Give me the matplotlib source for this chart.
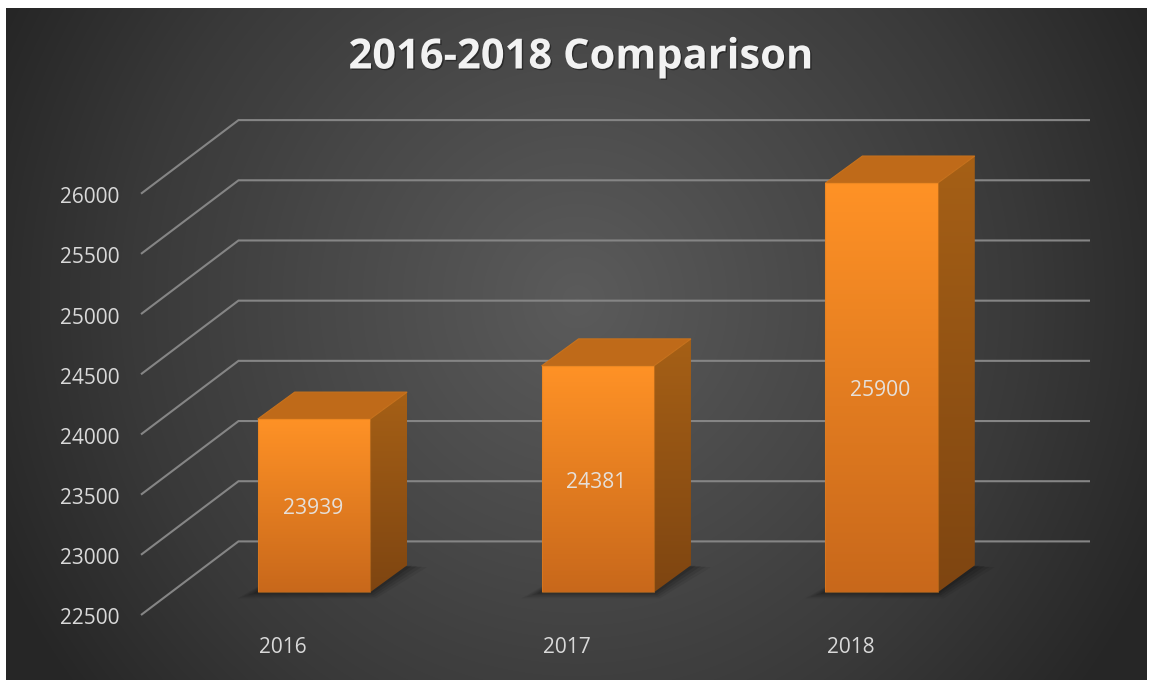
import numpy as np
import matplotlib
matplotlib.use("Agg")
import matplotlib.pyplot as plt
from matplotlib.patches import Polygon
from matplotlib.colors import LinearSegmentedColormap
from matplotlib.transforms import Affine2D
import matplotlib.patheffects as pe

years = ["2016", "2017", "2018"]
totals = [23939, 24381, 25900]
y_ticks = [22500, 23000, 23500, 24000, 24500, 25000, 25500, 26000]
title = "2016-2018 Comparison"

W, H = 1153, 685
FONT = "Open Sans"
plt.rcParams["font.family"] = [FONT, "DejaVu Sans"]

fig = plt.figure(figsize=(W / 100, H / 100), dpi=100, facecolor="white")

# panel background (radial gradient)
PL, PR, PT, PB = 6, 1147, 8, 680
bg = fig.add_axes([PL / W, 1 - PB / H, (PR - PL) / W, (PB - PT) / H], zorder=0)
bg.axis("off")
yy, xx = np.mgrid[PT:PB, PL:PR]
r = np.sqrt(((xx - 577) / 640) ** 2 + ((yy - 300) / 650) ** 2)
bg_cmap = LinearSegmentedColormap.from_list(
    "bg", [(0, "#5b5b5b"), (0.4, "#484848"), (0.7, "#393939"), (1, "#262626")])
bg.imshow(np.clip(r, 0, 1), cmap=bg_cmap, vmin=0, vmax=1, aspect="auto", interpolation="bilinear")

# main axes: the front plane of the 3-D box
AL, AR, AT, AB = 141.0, 992.5, 193.7, 615.0
ax = fig.add_axes([AL / W, 1 - AB / H, (AR - AL) / W, (AB - AT) / H], zorder=1)
ax.patch.set_alpha(0)
ax.set_xlim(-0.5, 2.5)
ax.set_ylim(22500, 26000)
for s in ax.spines.values():
    s.set_visible(False)

px_x = 3.0 / (AR - AL)
px_y = 3500.0 / (AB - AT)

def shift(x, y, dx, dy):
    return x + dx * px_x, y + dy * px_y

# gridlines: floor-side diagonal + back-wall line
WALL = (97.5, 73.6)
grid_color = "#858585"
for v in y_ticks:
    bx, by = shift(-0.5, v, *WALL)
    ex, ey = shift(2.5, v, WALL[0], WALL[1])
    ax.plot([-0.5, bx, ex], [v, by, ey], color=grid_color, lw=1.5, clip_on=False,
            solid_joinstyle="miter", solid_capstyle="butt", zorder=2)

ax.set_xticks(range(len(years)), years)
ax.set_yticks(y_ticks, [str(v) for v in y_ticks])
ax.tick_params(axis="both", length=0, labelsize=15, labelcolor="#d9d9d9")
ax.tick_params(axis="y", pad=15.5)
ax.tick_params(axis="x", pad=16)
for t in ax.get_yticklabels():
    t.set_transform(t.get_transform() + Affine2D().translate(0, -1.5))

def gradient_face(corners, c_top, c_bottom, z):
    corners = np.array(corners)
    cm = LinearSegmentedColormap.from_list("f", [c_top, c_bottom])
    im = ax.imshow(np.linspace(0, 1, 256)[:, None], cmap=cm, aspect="auto",
                   extent=[corners[:, 0].min(), corners[:, 0].max(),
                           corners[:, 1].min(), corners[:, 1].max()],
                   zorder=z, interpolation="bilinear")
    poly = Polygon(corners, closed=True, transform=ax.transData)
    im.set_clip_box(fig.bbox)
    im.set_clip_path(poly)

half = 56.2 * px_x
F = (31.0, 22.7)    # bar front-face depth offset (px)
B = (68.0, 49.7)    # bar back-face depth offset (px)
base = 22500

for i, v in enumerate(totals):
    fl, fb = shift(i - half, base, *F)
    fr, _ = shift(i + half, base, *F)
    _, ft = shift(i, v, *F)
    bl, bb = shift(i - half, base, *B)
    br, _ = shift(i + half, base, *B)
    _, bt = shift(i, v, *B)

    # soft floor shadow
    for k, a in zip([20, 15, 10, 5], [0.07, 0.09, 0.11, 0.13]):
        ex = k * px_x
        ey = k * 0.3 * px_y
        ax.add_patch(Polygon([(fl - ex, fb - ey), (fr + ex * 0.3, fb - ey),
                              (br + ex, bb - ey * 0.3), (bl, bb)],
                             closed=True, fc="black", ec="none", alpha=a,
                             zorder=3, clip_on=False))

    gradient_face([(fr, fb), (br, bb), (br, bt), (fr, ft)], "#A66016", "#7E4511", 4)
    ax.add_patch(Polygon([(fl, ft), (fr, ft), (br, bt), (bl, bt)], closed=True,
                         fc="#BF6A19", ec="#C8721C", lw=0.8, zorder=4, clip_on=False))
    gradient_face([(fl, fb), (fr, fb), (fr, ft), (fl, ft)], "#FF9226", "#C8681B", 5)
    ax.add_patch(Polygon([(fl, fb), (fr, fb), (fr, ft), (fl, ft)], closed=True,
                         fc="none", ec="#E08020", lw=0.8, alpha=0.5, zorder=6, clip_on=False))
    cx, cy = shift(i - 1.2 * px_x, (v + base) / 2 - 3 * px_y, *F)
    ax.text(cx, cy, str(v), color="#e6e0da", fontsize=15.2, ha="center", va="center",
            zorder=7, clip_on=False)

ax.set_xlim(-0.5, 2.5)
ax.set_ylim(22500, 26000)

fig.text(581 / W, 1 - 58 / H, title, color="#f2f2f2", fontsize=30, fontweight="bold",
         ha="center", va="center", zorder=8,
         path_effects=[pe.withSimplePatchShadow(offset=(1, -1), shadow_rgbFace="black", alpha=0.4)])

fig.savefig("out.png", dpi=100, facecolor="white")
